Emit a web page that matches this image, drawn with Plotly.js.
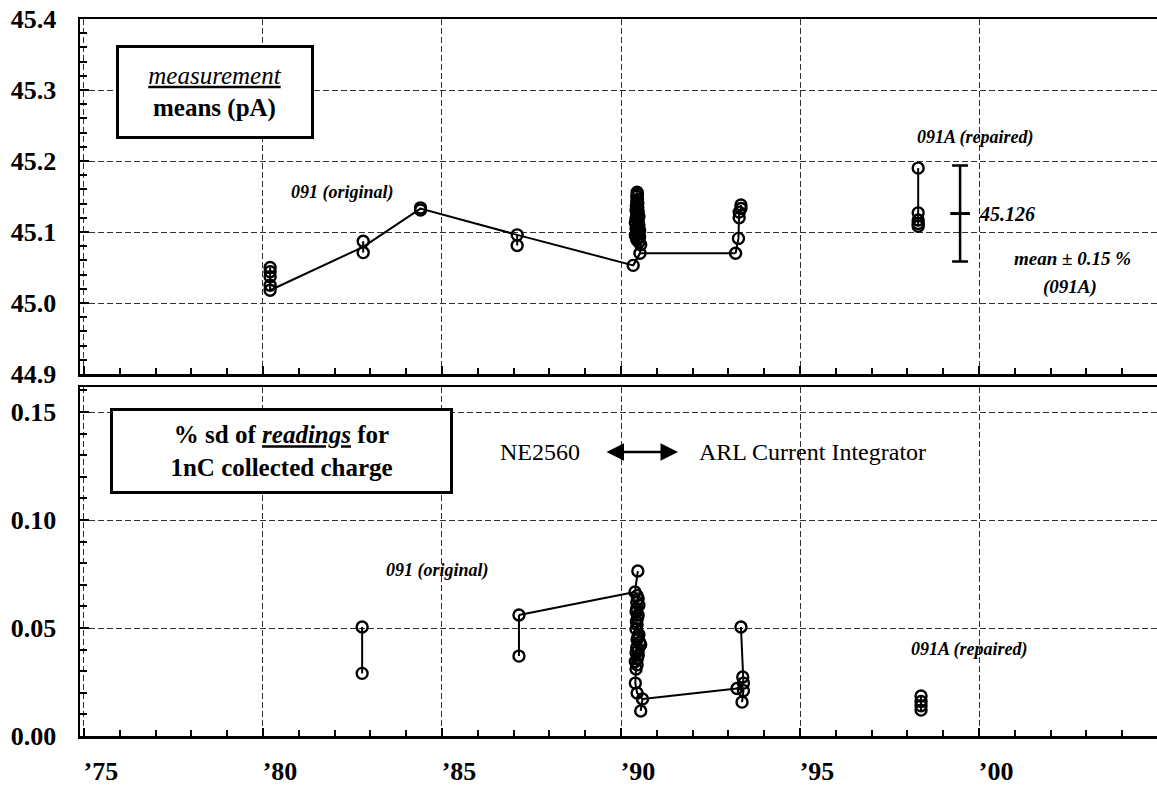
<!DOCTYPE html>
<html>
<head>
<meta charset="utf-8">
<script src="https://cdn.plot.ly/plotly-3.0.1.min.js"></script>
<style>html,body{margin:0;padding:0;background:#fff;}#chart{width:1157px;height:790px;}</style>
</head>
<body>
<div id="chart"></div>
<script>
// ---------- DATA ----------
// x = year (two-digit, e.g. 90.45 = early-mid 1990)
const yearTicks = [75, 80, 85, 90, 95, 100];
const yearTickLabels = ["\u201975", "\u201980", "\u201985", "\u201990", "\u201995", "\u201900"];

// measurement means (pA), grouped by session
const meanX = [
  [80.2, 80.2, 80.2, 80.2, 80.2],
  [82.8, 82.8],
  [84.4, 84.4],
  [87.1, 87.1],
  [90.45, 90.46, 90.44, 90.46, 90.44, 90.47, 90.43, 90.47, 90.42, 90.48, 90.44, 90.5, 90.42, 90.48, 90.4, 90.5, 90.46, 90.42, 90.52, 90.44, 90.5, 90.4, 90.52, 90.47, 90.44, 90.5, 90.55, 90.53, 90.34],
  [93.35, 93.35, 93.3, 93.3, 93.28, 93.2],
  [98.3, 98.3, 98.3, 98.3, 98.3]
];
const meanPA = [
  [45.050, 45.044, 45.037, 45.025, 45.018],
  [45.087, 45.071],
  [45.134, 45.131],
  [45.096, 45.081],
  [45.156, 45.153, 45.150, 45.146, 45.143, 45.140, 45.137, 45.134, 45.131, 45.128, 45.125, 45.122, 45.119, 45.116, 45.113, 45.110, 45.107, 45.105, 45.102, 45.100, 45.097, 45.095, 45.093, 45.091, 45.089, 45.086, 45.082, 45.070, 45.053],
  [45.138, 45.133, 45.128, 45.120, 45.091, 45.070],
  [45.190, 45.127, 45.117, 45.112, 45.108]
];
// trend line joining the 091 (original) sessions
const meanTrendX = [80.2, 82.8, 84.4, 87.1, 90.34, 90.53, 93.2];
const meanTrendPA = [45.018, 45.079, 45.133, 45.096, 45.053, 45.070, 45.070];

// 091A mean and +/- 0.15 % band
const repairedMeanX = [99.47];
const repairedMean = [45.126];
const bandPct = 0.15;

// % sd of readings, grouped by session
const sdX = [
  [82.77, 82.77],
  [87.15, 87.15],
  [90.47, 90.39, 90.45, 90.48, 90.44, 90.5, 90.44, 90.42, 90.48, 90.46, 90.43, 90.45, 90.42, 90.5, 90.47, 90.45, 90.52, 90.55, 90.44, 90.48, 90.42, 90.48, 90.46, 90.4, 90.45, 90.42, 90.4, 90.45, 90.6, 90.55],
  [93.35, 93.4, 93.42, 93.24, 93.42, 93.38],
  [98.38, 98.38, 98.38, 98.38]
];
const sdPct = [
  [0.0505, 0.029],
  [0.056, 0.037],
  [0.0764, 0.0667, 0.065, 0.0635, 0.062, 0.0605, 0.059, 0.0575, 0.056, 0.0545, 0.053, 0.0515, 0.0495, 0.047, 0.0458, 0.0446, 0.0434, 0.0422, 0.041, 0.0398, 0.0386, 0.0374, 0.036, 0.0345, 0.033, 0.031, 0.0245, 0.0199, 0.0171, 0.0116],
  [0.0505, 0.0273, 0.0245, 0.022, 0.021, 0.0157],
  [0.0185, 0.016, 0.014, 0.012]
];
const sdTrendX = [87.15, 90.39, null, 90.6, 93.24];
const sdTrendPct = [0.056, 0.0667, null, 0.0171, 0.022];

// ---------- helpers ----------
function flatten(groups) {
  const out = [];
  groups.forEach((g, i) => { if (i > 0) out.push(null); g.forEach(v => out.push(v)); });
  return out;
}
const W = 1157, H = 790, ML = 80, MR = 0, MT = 19, MB = 54;
const PW = W - ML - MR, PH = H - MT - MB;
const px = v => (v - ML) / PW;
const py = v => (H - MB - v) / PH;

const SERIF = "Liberation Serif";
const marker = {symbol: 'circle-open', size: 11, color: '#000', line: {width: 2.4, color: '#000'}};

const traces = [
  {x: flatten(meanX), y: flatten(meanPA), xaxis: 'x2', yaxis: 'y2', mode: 'lines+markers',
   line: {color: '#000', width: 2}, marker: marker, connectgaps: false, showlegend: false},
  {x: meanTrendX, y: meanTrendPA, xaxis: 'x2', yaxis: 'y2', mode: 'lines',
   line: {color: '#000', width: 2}, showlegend: false},
  {x: repairedMeanX, y: repairedMean, xaxis: 'x2', yaxis: 'y2', mode: 'markers',
   marker: {symbol: 'line-ew-open', size: 14, color: '#000', line: {width: 3, color: '#000'}},
   error_y: {type: 'percent', value: bandPct, symmetric: true, color: '#000', thickness: 2.5, width: 8},
   showlegend: false},
  {x: flatten(sdX), y: flatten(sdPct), xaxis: 'x', yaxis: 'y', mode: 'lines+markers',
   line: {color: '#000', width: 2}, marker: marker, connectgaps: false, showlegend: false},
  {x: sdTrendX, y: sdTrendPct, xaxis: 'x', yaxis: 'y', mode: 'lines',
   line: {color: '#000', width: 2}, connectgaps: false, showlegend: false}
];

const tickFont = {family: SERIF, size: 26, color: '#000', weight: 'bold'};
const grid = {showgrid: true, gridcolor: '#333', gridwidth: 1, griddash: '6px,3px'};
const xBase = Object.assign({
  range: [74.89, 104.97], tickvals: yearTicks, ticks: 'inside', ticklen: 8, tickwidth: 2, tickcolor: '#000',
  showline: true, linecolor: '#000', linewidth: 2.5, mirror: true, zeroline: false,
  minor: {dtick: 1, tick0: 75, ticks: 'inside', ticklen: 6, tickwidth: 2, tickcolor: '#000', showgrid: false}
}, grid);

function label(xp, yp, text, size, extra) {
  return Object.assign({xref: 'paper', yref: 'paper', x: px(xp), y: py(yp), xanchor: 'center', yanchor: 'middle',
    text: text, showarrow: false, font: {family: SERIF, size: size, color: '#000'}}, extra || {});
}

const layout = {
  width: W, height: H,
  margin: {l: ML, r: MR, t: MT, b: MB, pad: 0},
  paper_bgcolor: '#fff', plot_bgcolor: '#fff',
  font: {family: SERIF, color: '#000'},
  showlegend: false,
  xaxis: Object.assign({}, xBase, {anchor: 'y', ticktext: yearTickLabels, tickfont: tickFont,
    ticklabelstandoff: 10, ticklabelshift: 17}),
  xaxis2: Object.assign({}, xBase, {anchor: 'y2', showticklabels: false}),
  yaxis: Object.assign({
    domain: [0, (H - MB - 387) / PH], range: [0, 0.1616], dtick: 0.05, tick0: 0, tickformat: '.2f',
    ticks: 'inside', ticklen: 9, tickwidth: 2, tickcolor: '#000', tickfont: tickFont, ticklabelstandoff: 16,
    showline: true, linecolor: '#000', linewidth: 2.5, zeroline: false,
    minor: {dtick: 0.01, tick0: 0, ticks: 'inside', ticklen: 7, tickwidth: 2, tickcolor: '#000', showgrid: false}
  }, grid),
  yaxis2: Object.assign({
    domain: [(H - MB - 374) / PH, 1], range: [44.9, 45.4], dtick: 0.1, tick0: 44.9, tickformat: '.1f',
    ticks: 'inside', ticklen: 9, tickwidth: 2, tickcolor: '#000', tickfont: tickFont, ticklabelstandoff: 16,
    showline: true, linecolor: '#000', linewidth: 2.5, zeroline: false,
    minor: {dtick: 0.02, tick0: 44.9, ticks: 'inside', ticklen: 7, tickwidth: 2, tickcolor: '#000', showgrid: false}
  }, grid),
  annotations: [
    label(215, 92, '<i><u>measurement</u></i><br><b>means (pA)</b>', 25,
      {align: 'center', width: 192, height: 88, bgcolor: '#fff', bordercolor: '#000', borderwidth: 3, borderpad: 0}),
    label(342, 193, '<b><i>091 (original)</i></b>', 18),
    label(975, 137, '<b><i>091A (repaired)</i></b>', 18),
    label(977, 214, '<b><i>45.126</i></b>', 20, {xanchor: 'left'}),
    label(1072, 258, '<b><i>mean \u00b1 0.15 %</i></b>', 19),
    label(1070, 287, '<b><i>(091A)</i></b>', 19),
    label(281.5, 450.5, '<b>% sd of <i><u>readings</u></i> for<br>1nC collected charge</b>', 25,
      {align: 'center', width: 337, height: 80, bgcolor: '#fff', bordercolor: '#000', borderwidth: 3, borderpad: 0}),
    label(540, 452, 'NE2560', 24),
    {xref: 'paper', yref: 'paper', x: px(678), y: py(452), text: '', showarrow: true,
     ax: -73, ay: 0, arrowside: 'end+start', arrowhead: 2, startarrowhead: 2, arrowsize: 1.4, startarrowsize: 1.4,
     arrowwidth: 2.5, arrowcolor: '#000', standoff: 0, startstandoff: 0},
    label(697, 452, 'ARL Current Integrator', 24, {xanchor: 'left'}),
    label(437, 570, '<b><i>091 (original)</i></b>', 18),
    label(969, 649, '<b><i>091A (repaired)</i></b>', 18)
  ]
};

Plotly.newPlot('chart', traces, layout, {staticPlot: true, displayModeBar: false});
</script>
</body>
</html>
